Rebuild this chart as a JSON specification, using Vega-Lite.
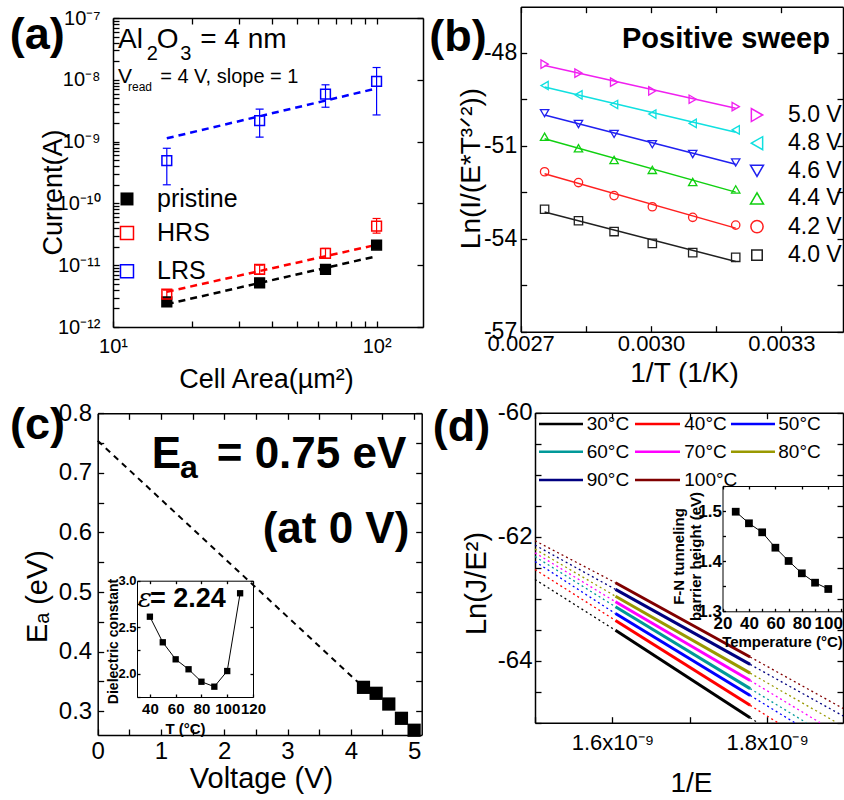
{
"$schema": "https://vega.github.io/schema/vega-lite/v6.json",
"width": 844, "height": 800, "padding": 0, "autosize": {"type": "none"},
"background": "white",
"config": {
  "font": "Liberation Sans",
  "view": {"stroke": null},
  "axis": {"grid": false, "tickSize": -6, "labelFlush": false, "labelOverlap": false, "labelBound": false,
    "domainColor": "#000", "tickColor": "#000", "labelColor": "#000", "titleColor": "#000",
    "domainWidth": 1.5, "tickWidth": 1.3, "labelFont": "Liberation Sans", "titleFont": "Liberation Sans",
    "titleFontWeight": "normal", "titleBaseline": "alphabetic", "titleAlign": "center", "titlePadding": 0},
  "text": {"font": "Liberation Sans", "color": "#000"}
},
"datasets": {
  "a_pts": [
    {"area": 16, "I": 2.54e-12, "s": "pristine"},
    {"area": 36, "I": 5.2e-12, "s": "pristine"},
    {"area": 64, "I": 8.55e-12, "s": "pristine"},
    {"area": 100, "I": 2.12e-11, "s": "pristine"},
    {"area": 16, "I": 3.4e-12, "lo": 2.9e-12, "hi": 3.95e-12, "s": "HRS"},
    {"area": 36, "I": 8.55e-12, "lo": 7.2e-12, "hi": 1.0e-11, "s": "HRS"},
    {"area": 64, "I": 1.55e-11, "lo": 1.29e-11, "hi": 1.87e-11, "s": "HRS"},
    {"area": 100, "I": 4.3e-11, "lo": 3.3e-11, "hi": 5.7e-11, "s": "HRS"},
    {"area": 16, "I": 4.9e-10, "lo": 2.0e-10, "hi": 7.8e-10, "s": "LRS"},
    {"area": 36, "I": 2.19e-9, "lo": 1.18e-9, "hi": 3.35e-9, "s": "LRS"},
    {"area": 64, "I": 5.86e-9, "lo": 3.6e-9, "hi": 8.3e-9, "s": "LRS"},
    {"area": 100, "I": 9.4e-9, "lo": 2.7e-9, "hi": 1.58e-8, "s": "LRS"}
  ],
  "a_fit": [
    {"area": 16, "I": 2.34e-12, "s": "pristine"}, {"area": 98, "I": 1.37e-11, "s": "pristine"},
    {"area": 16, "I": 3.7e-12, "s": "HRS"}, {"area": 98, "I": 2.1e-11, "s": "HRS"},
    {"area": 16, "I": 1.13e-9, "s": "LRS"}, {"area": 98, "I": 7.1e-9, "s": "LRS"}
  ],
  "b_pts": [
    {"V": "5.0 V", "x": 0.002755, "y": -48.37}, {"V": "5.0 V", "x": 0.002833, "y": -48.66}, {"V": "5.0 V", "x": 0.002915, "y": -48.95},
    {"V": "5.0 V", "x": 0.003003, "y": -49.23}, {"V": "5.0 V", "x": 0.003096, "y": -49.50}, {"V": "5.0 V", "x": 0.003195, "y": -49.74},
    {"V": "4.8 V", "x": 0.002755, "y": -49.06}, {"V": "4.8 V", "x": 0.002833, "y": -49.36}, {"V": "4.8 V", "x": 0.002915, "y": -49.67},
    {"V": "4.8 V", "x": 0.003003, "y": -49.98}, {"V": "4.8 V", "x": 0.003096, "y": -50.28}, {"V": "4.8 V", "x": 0.003195, "y": -50.49},
    {"V": "4.6 V", "x": 0.002755, "y": -49.95}, {"V": "4.6 V", "x": 0.002833, "y": -50.30}, {"V": "4.6 V", "x": 0.002915, "y": -50.62},
    {"V": "4.6 V", "x": 0.003003, "y": -50.95}, {"V": "4.6 V", "x": 0.003096, "y": -51.27}, {"V": "4.6 V", "x": 0.003195, "y": -51.54},
    {"V": "4.4 V", "x": 0.002755, "y": -50.71}, {"V": "4.4 V", "x": 0.002833, "y": -51.08}, {"V": "4.4 V", "x": 0.002915, "y": -51.46},
    {"V": "4.4 V", "x": 0.003003, "y": -51.78}, {"V": "4.4 V", "x": 0.003096, "y": -52.17}, {"V": "4.4 V", "x": 0.003195, "y": -52.41},
    {"V": "4.2 V", "x": 0.002755, "y": -51.84}, {"V": "4.2 V", "x": 0.002833, "y": -52.19}, {"V": "4.2 V", "x": 0.002915, "y": -52.61},
    {"V": "4.2 V", "x": 0.003003, "y": -52.97}, {"V": "4.2 V", "x": 0.003096, "y": -53.31}, {"V": "4.2 V", "x": 0.003195, "y": -53.56},
    {"V": "4.0 V", "x": 0.002755, "y": -53.05}, {"V": "4.0 V", "x": 0.002833, "y": -53.42}, {"V": "4.0 V", "x": 0.002915, "y": -53.77},
    {"V": "4.0 V", "x": 0.003003, "y": -54.15}, {"V": "4.0 V", "x": 0.003096, "y": -54.45}, {"V": "4.0 V", "x": 0.003195, "y": -54.60}
  ],
  "c_pts": [
    {"V": 4.2, "Ea": 0.340}, {"V": 4.4, "Ea": 0.330}, {"V": 4.6, "Ea": 0.312}, {"V": 4.8, "Ea": 0.288}, {"V": 5.0, "Ea": 0.268}
  ],
  "c_fit": [{"V": 0, "Ea": 0.754}, {"V": 4.2, "Ea": 0.340}],
  "c_ins": [
    {"T": 40, "eps": 2.613}, {"T": 50, "eps": 2.338}, {"T": 60, "eps": 2.155}, {"T": 70, "eps": 2.048},
    {"T": 80, "eps": 1.914}, {"T": 90, "eps": 1.861}, {"T": 100, "eps": 2.029}, {"T": 110, "eps": 2.865}
  ],
  "d_cur": [
    {"T": "30°C", "x": 1.604e-9, "y": -63.51}, {"T": "30°C", "x": 1.778e-9, "y": -64.92},
    {"T": "40°C", "x": 1.604e-9, "y": -63.35}, {"T": "40°C", "x": 1.778e-9, "y": -64.72},
    {"T": "50°C", "x": 1.604e-9, "y": -63.24}, {"T": "50°C", "x": 1.778e-9, "y": -64.56},
    {"T": "60°C", "x": 1.604e-9, "y": -63.13}, {"T": "60°C", "x": 1.778e-9, "y": -64.45},
    {"T": "70°C", "x": 1.604e-9, "y": -63.05}, {"T": "70°C", "x": 1.778e-9, "y": -64.32},
    {"T": "80°C", "x": 1.604e-9, "y": -62.96}, {"T": "80°C", "x": 1.778e-9, "y": -64.20},
    {"T": "90°C", "x": 1.604e-9, "y": -62.85}, {"T": "90°C", "x": 1.778e-9, "y": -64.06},
    {"T": "100°C", "x": 1.604e-9, "y": -62.742}, {"T": "100°C", "x": 1.778e-9, "y": -63.94}
  ],
  "d_ext": [
    {"T": "30°C", "seg": "L", "x": 1.5e-9, "y": -62.69}, {"T": "30°C", "seg": "L", "x": 1.604e-9, "y": -63.51},
    {"T": "30°C", "seg": "R", "x": 1.778e-9, "y": -64.92}, {"T": "30°C", "seg": "R", "x": 1.788e-9, "y": -65.0},
    {"T": "40°C", "seg": "L", "x": 1.5e-9, "y": -62.53}, {"T": "40°C", "seg": "L", "x": 1.604e-9, "y": -63.35},
    {"T": "40°C", "seg": "R", "x": 1.778e-9, "y": -64.72}, {"T": "40°C", "seg": "R", "x": 1.8138e-9, "y": -65.0},
    {"T": "50°C", "seg": "L", "x": 1.5e-9, "y": -62.40}, {"T": "50°C", "seg": "L", "x": 1.604e-9, "y": -63.24},
    {"T": "50°C", "seg": "R", "x": 1.778e-9, "y": -64.56}, {"T": "50°C", "seg": "R", "x": 1.8356e-9, "y": -65.0},
    {"T": "60°C", "seg": "L", "x": 1.5e-9, "y": -62.32}, {"T": "60°C", "seg": "L", "x": 1.604e-9, "y": -63.13},
    {"T": "60°C", "seg": "R", "x": 1.778e-9, "y": -64.45}, {"T": "60°C", "seg": "R", "x": 1.8505e-9, "y": -65.0},
    {"T": "70°C", "seg": "L", "x": 1.5e-9, "y": -62.26}, {"T": "70°C", "seg": "L", "x": 1.604e-9, "y": -63.05},
    {"T": "70°C", "seg": "R", "x": 1.778e-9, "y": -64.32}, {"T": "70°C", "seg": "R", "x": 1.8683e-9, "y": -65.0},
    {"T": "80°C", "seg": "L", "x": 1.5e-9, "y": -62.20}, {"T": "80°C", "seg": "L", "x": 1.604e-9, "y": -62.96},
    {"T": "80°C", "seg": "R", "x": 1.778e-9, "y": -64.20}, {"T": "80°C", "seg": "R", "x": 1.8902e-9, "y": -65.0},
    {"T": "90°C", "seg": "L", "x": 1.5e-9, "y": -62.135}, {"T": "90°C", "seg": "L", "x": 1.604e-9, "y": -62.85},
    {"T": "90°C", "seg": "R", "x": 1.778e-9, "y": -64.06}, {"T": "90°C", "seg": "R", "x": 1.898e-9, "y": -64.89},
    {"T": "100°C", "seg": "L", "x": 1.5e-9, "y": -62.065}, {"T": "100°C", "seg": "L", "x": 1.604e-9, "y": -62.742},
    {"T": "100°C", "seg": "R", "x": 1.778e-9, "y": -63.94}, {"T": "100°C", "seg": "R", "x": 1.898e-9, "y": -64.77}
  ],
  "d_ins": [
    {"T": 30, "phi": 1.4987}, {"T": 40, "phi": 1.4756}, {"T": 50, "phi": 1.4576}, {"T": 60, "phi": 1.4269},
    {"T": 70, "phi": 1.4004}, {"T": 80, "phi": 1.3758}, {"T": 90, "phi": 1.3571}, {"T": 100, "phi": 1.3445}
  ]
},
"layer": [
  {
    "layer": [
      {
        "data": {"name": "a_fit"},
        "mark": {"type": "line", "strokeDash": [7, 5], "strokeWidth": 2.5},
        "encoding": {
          "x": {"field": "area", "type": "quantitative", "scale": {"type": "log", "domain": [10, 150], "range": [113, 423], "nice": false},
            "axis": {"orient": "top", "offset": -18, "labels": false, "title": null, "values": [10, 20, 30, 40, 50, 60, 70, 80, 90, 100]}},
          "y": {"field": "I", "type": "quantitative", "scale": {"type": "log", "domain": [1e-12, 1e-7], "range": [327, 18], "nice": false},
            "axis": {"orient": "right", "offset": -421, "labels": false, "title": null, "values": [1e-12, 1e-11, 1e-10, 1e-9, 1e-8, 1e-7]}},
          "color": {"field": "s", "type": "nominal", "scale": {"domain": ["pristine", "HRS", "LRS"], "range": ["#000000", "#FF0000", "#0000FF"]}, "legend": null}
        }
      },
      {
        "data": {"name": "a_pts"},
        "transform": [{"filter": "isValid(datum.lo)"}],
        "mark": {"type": "rule", "strokeWidth": 1.2},
        "encoding": {
          "x": {"field": "area", "type": "quantitative", "axis": null},
          "y": {"field": "lo", "type": "quantitative", "axis": null},
          "y2": {"field": "hi"},
          "color": {"field": "s", "type": "nominal", "legend": null}
        }
      },
      {
        "data": {"name": "a_pts"},
        "transform": [{"filter": "isValid(datum.lo)"}],
        "mark": {"type": "tick", "orient": "horizontal", "size": 8, "thickness": 1.2, "opacity": 1},
        "encoding": {
          "x": {"field": "area", "type": "quantitative", "axis": null},
          "y": {"field": "lo", "type": "quantitative", "axis": null},
          "color": {"field": "s", "type": "nominal", "legend": null}
        }
      },
      {
        "data": {"name": "a_pts"},
        "transform": [{"filter": "isValid(datum.hi)"}],
        "mark": {"type": "tick", "orient": "horizontal", "size": 8, "thickness": 1.2, "opacity": 1},
        "encoding": {
          "x": {"field": "area", "type": "quantitative", "axis": null},
          "y": {"field": "hi", "type": "quantitative", "axis": null},
          "color": {"field": "s", "type": "nominal", "legend": null}
        }
      },
      {
        "data": {"name": "a_pts"},
        "mark": {"type": "point", "shape": "square", "size": 95, "strokeWidth": 1.5, "opacity": 1},
        "encoding": {
          "x": {"field": "area", "type": "quantitative",
            "axis": {"orient": "bottom", "offset": -473, "values": [10, 20, 30, 40, 50, 60, 70, 80, 90, 100],
              "labelExpr": "datum.value === 10 ? '10¹' : datum.value === 100 ? '10²' : ''",
              "labelFontSize": 20, "labelPadding": 15, "title": "Cell Area(µm²)", "titleFontSize": 27, "titleX": 266, "titleY": 60}},
          "y": {"field": "I", "type": "quantitative",
            "axis": {"orient": "left", "offset": -113,
              "values": [1e-12, 2e-12, 3e-12, 4e-12, 5e-12, 6e-12, 7e-12, 8e-12, 9e-12, 1e-11, 2e-11, 3e-11, 4e-11, 5e-11, 6e-11, 7e-11, 8e-11, 9e-11, 1e-10, 2e-10, 3e-10, 4e-10, 5e-10, 6e-10, 7e-10, 8e-10, 9e-10, 1e-9, 2e-9, 3e-9, 4e-9, 5e-9, 6e-9, 7e-9, 8e-9, 9e-9, 1e-8, 2e-8, 3e-8, 4e-8, 5e-8, 6e-8, 7e-8, 8e-8, 9e-8, 1e-7],
              "labelExpr": "datum.value === 1e-12 ? '10⁻¹²' : datum.value === 1e-11 ? '10⁻¹¹' : datum.value === 1e-10 ? '10⁻¹⁰' : datum.value === 1e-9 ? '10⁻⁹' : datum.value === 1e-8 ? '10⁻⁸' : datum.value === 1e-7 ? '10⁻⁷' : ''",
              "labelFontSize": 20, "labelPadding": 19, "title": "Current(A)", "titleFontSize": 27, "titleX": -52, "titleY": 192}},
          "color": {"field": "s", "type": "nominal", "legend": null},
          "fill": {"field": "s", "type": "nominal", "scale": {"domain": ["pristine", "HRS", "LRS"], "range": ["#000000", "transparent", "transparent"]}, "legend": null}
        }
      },
      {"data": {"values": [{}]}, "mark": {"type": "point", "shape": "square", "size": 169, "filled": true, "color": "#000", "opacity": 1},
        "encoding": {"x": {"datum": 11.3, "type": "quantitative", "axis": null}, "y": {"datum": 1.18e-10, "type": "quantitative", "axis": null}}},
      {"data": {"values": [{}]}, "mark": {"type": "point", "shape": "square", "size": 169, "filled": false, "strokeWidth": 1.5, "color": "#FF0000", "opacity": 1},
        "encoding": {"x": {"datum": 11.3, "type": "quantitative", "axis": null}, "y": {"datum": 3.31e-11, "type": "quantitative", "axis": null}}},
      {"data": {"values": [{}]}, "mark": {"type": "point", "shape": "square", "size": 169, "filled": false, "strokeWidth": 1.5, "color": "#0000FF", "opacity": 1},
        "encoding": {"x": {"datum": 11.3, "type": "quantitative", "axis": null}, "y": {"datum": 8.0e-12, "type": "quantitative", "axis": null}}},
      {"data": {"values": [{}]}, "mark": {"type": "text", "text": "pristine", "fontSize": 25, "align": "left", "baseline": "middle"},
        "encoding": {"x": {"datum": 14.69, "type": "quantitative", "axis": null}, "y": {"datum": 1.18e-10, "type": "quantitative", "axis": null}}},
      {"data": {"values": [{}]}, "mark": {"type": "text", "text": "HRS", "fontSize": 25, "align": "left", "baseline": "middle"},
        "encoding": {"x": {"datum": 14.69, "type": "quantitative", "axis": null}, "y": {"datum": 3.31e-11, "type": "quantitative", "axis": null}}},
      {"data": {"values": [{}]}, "mark": {"type": "text", "text": "LRS", "fontSize": 25, "align": "left", "baseline": "middle"},
        "encoding": {"x": {"datum": 14.69, "type": "quantitative", "axis": null}, "y": {"datum": 8.0e-12, "type": "quantitative", "axis": null}}},
      {"data": {"values": [{}]}, "mark": {"type": "text", "text": "(a)", "fontSize": 45, "fontWeight": "bold", "align": "center", "baseline": "middle"},
        "encoding": {"x": {"datum": 5.16, "type": "quantitative", "axis": null}, "y": {"datum": 5.37e-8, "type": "quantitative", "axis": null}}},
      {"data": {"values": [{}]}, "mark": {"type": "text", "text": "Al", "fontSize": 28, "align": "left", "baseline": "alphabetic"},
        "encoding": {"x": {"datum": 10.447, "type": "quantitative", "axis": null}, "y": {"datum": 3.27e-8, "type": "quantitative", "axis": null}}},
      {"data": {"values": [{}]}, "mark": {"type": "text", "text": "2", "fontSize": 20, "align": "left", "baseline": "alphabetic"},
        "encoding": {"x": {"datum": 13.43, "type": "quantitative", "axis": null}, "y": {"datum": 2.11e-8, "type": "quantitative", "axis": null}}},
      {"data": {"values": [{}]}, "mark": {"type": "text", "text": "O", "fontSize": 28, "align": "left", "baseline": "alphabetic"},
        "encoding": {"x": {"datum": 14.66, "type": "quantitative", "axis": null}, "y": {"datum": 3.27e-8, "type": "quantitative", "axis": null}}},
      {"data": {"values": [{}]}, "mark": {"type": "text", "text": "3", "fontSize": 20, "align": "left", "baseline": "alphabetic"},
        "encoding": {"x": {"datum": 17.98, "type": "quantitative", "axis": null}, "y": {"datum": 2.11e-8, "type": "quantitative", "axis": null}}},
      {"data": {"values": [{}]}, "mark": {"type": "text", "text": "= 4 nm", "fontSize": 28, "align": "left", "baseline": "alphabetic"},
        "encoding": {"x": {"datum": 21.42, "type": "quantitative", "axis": null}, "y": {"datum": 3.27e-8, "type": "quantitative", "axis": null}}},
      {"data": {"values": [{}]}, "mark": {"type": "text", "text": "V", "fontSize": 21, "align": "left", "baseline": "alphabetic"},
        "encoding": {"x": {"datum": 10.447, "type": "quantitative", "axis": null}, "y": {"datum": 8.84e-9, "type": "quantitative", "axis": null}}},
      {"data": {"values": [{}]}, "mark": {"type": "text", "text": "read", "fontSize": 12, "align": "left", "baseline": "alphabetic"},
        "encoding": {"x": {"datum": 11.4, "type": "quantitative", "axis": null}, "y": {"datum": 6.71e-9, "type": "quantitative", "axis": null}}},
      {"data": {"values": [{}]}, "mark": {"type": "text", "text": "= 4 V, slope = 1", "fontSize": 20, "align": "left", "baseline": "alphabetic"},
        "encoding": {"x": {"datum": 15.1, "type": "quantitative", "axis": null}, "y": {"datum": 8.84e-9, "type": "quantitative", "axis": null}}}
    ],
    "resolve": {"axis": {"x": "independent", "y": "independent"}}
  },
  {
    "layer": [
      {
        "data": {"name": "b_pts"},
        "transform": [{"regression": "y", "on": "x", "groupby": ["V"]}],
        "mark": {"type": "line", "strokeWidth": 1.5},
        "encoding": {
          "x": {"field": "x", "type": "quantitative", "scale": {"domain": [0.0027, 0.003442], "range": [520.7, 843], "nice": false, "zero": false},
            "axis": {"orient": "top", "offset": -6.7, "labels": false, "title": null, "values": [0.0027, 0.00285, 0.003, 0.00315, 0.0033]}},
          "y": {"field": "y", "type": "quantitative", "scale": {"domain": [-57, -46.516], "range": [331.7, 6.7], "nice": false, "zero": false},
            "axis": {"orient": "right", "offset": -1, "labels": false, "title": null, "values": [-57, -55.5, -54, -52.5, -51, -49.5, -48]}},
          "color": {"field": "V", "type": "nominal", "scale": {"domain": ["5.0 V", "4.8 V", "4.6 V", "4.4 V", "4.2 V", "4.0 V"], "range": ["#F020F0", "#10E0E0", "#2020F0", "#10D010", "#FF2020", "#202020"]}, "legend": null}
        }
      },
      {
        "data": {"name": "b_pts"},
        "mark": {"type": "point", "filled": false, "size": 70, "strokeWidth": 1.3, "opacity": 1},
        "encoding": {
          "x": {"field": "x", "type": "quantitative",
            "axis": {"orient": "bottom", "offset": -468.3, "values": [0.0027, 0.00285, 0.003, 0.00315, 0.0033],
              "labelExpr": "round(datum.value*100000) % 30 === 0 ? format(datum.value, '.4f') : ''",
              "labelFontSize": 22, "labelPadding": 8, "title": "1/T (1/K)", "titleFontSize": 28, "titleX": 684, "titleY": 50}},
          "y": {"field": "y", "type": "quantitative",
            "axis": {"orient": "left", "offset": -520.7, "values": [-57, -55.5, -54, -52.5, -51, -49.5, -48],
              "labelExpr": "datum.value % 3 === 0 ? '' + datum.value : ''",
              "labelFontSize": 23, "labelPadding": 10, "title": "Ln(I/(E*T³ᐟ²))", "titleFontSize": 28, "titleX": -41, "titleY": 168}},
          "color": {"field": "V", "type": "nominal", "legend": null},
          "shape": {"field": "V", "type": "nominal", "scale": {"domain": ["5.0 V", "4.8 V", "4.6 V", "4.4 V", "4.2 V", "4.0 V"], "range": ["triangle-right", "triangle-left", "triangle-down", "triangle-up", "circle", "square"]}, "legend": null}
        }
      },
      {"data": {"values": [{}]}, "mark": {"type": "point", "shape": "triangle-right", "size": 170, "filled": false, "strokeWidth": 1.5, "color": "#F020F0", "opacity": 1},
        "encoding": {"x": {"datum": 0.003244, "type": "quantitative", "axis": null}, "y": {"datum": -50.01, "type": "quantitative", "axis": null}}},
      {"data": {"values": [{}]}, "mark": {"type": "point", "shape": "triangle-left", "size": 170, "filled": false, "strokeWidth": 1.5, "color": "#10E0E0", "opacity": 1},
        "encoding": {"x": {"datum": 0.003244, "type": "quantitative", "axis": null}, "y": {"datum": -50.92, "type": "quantitative", "axis": null}}},
      {"data": {"values": [{}]}, "mark": {"type": "point", "shape": "triangle-down", "size": 170, "filled": false, "strokeWidth": 1.5, "color": "#2020F0", "opacity": 1},
        "encoding": {"x": {"datum": 0.003244, "type": "quantitative", "axis": null}, "y": {"datum": -51.81, "type": "quantitative", "axis": null}}},
      {"data": {"values": [{}]}, "mark": {"type": "point", "shape": "triangle-up", "size": 170, "filled": false, "strokeWidth": 1.5, "color": "#10D010", "opacity": 1},
        "encoding": {"x": {"datum": 0.003244, "type": "quantitative", "axis": null}, "y": {"datum": -52.70, "type": "quantitative", "axis": null}}},
      {"data": {"values": [{}]}, "mark": {"type": "point", "shape": "circle", "size": 150, "filled": false, "strokeWidth": 1.5, "color": "#FF2020", "opacity": 1},
        "encoding": {"x": {"datum": 0.003244, "type": "quantitative", "axis": null}, "y": {"datum": -53.61, "type": "quantitative", "axis": null}}},
      {"data": {"values": [{}]}, "mark": {"type": "point", "shape": "square", "size": 110, "filled": false, "strokeWidth": 1.5, "color": "#202020", "opacity": 1},
        "encoding": {"x": {"datum": 0.003244, "type": "quantitative", "axis": null}, "y": {"datum": -54.53, "type": "quantitative", "axis": null}}},
      {"data": {"values": [{}]}, "mark": {"type": "text", "text": "5.0 V", "fontSize": 23, "align": "left", "baseline": "middle"},
        "encoding": {"x": {"datum": 0.0033154, "type": "quantitative", "axis": null}, "y": {"datum": -50.01, "type": "quantitative", "axis": null}}},
      {"data": {"values": [{}]}, "mark": {"type": "text", "text": "4.8 V", "fontSize": 23, "align": "left", "baseline": "middle"},
        "encoding": {"x": {"datum": 0.0033154, "type": "quantitative", "axis": null}, "y": {"datum": -50.92, "type": "quantitative", "axis": null}}},
      {"data": {"values": [{}]}, "mark": {"type": "text", "text": "4.6 V", "fontSize": 23, "align": "left", "baseline": "middle"},
        "encoding": {"x": {"datum": 0.0033154, "type": "quantitative", "axis": null}, "y": {"datum": -51.81, "type": "quantitative", "axis": null}}},
      {"data": {"values": [{}]}, "mark": {"type": "text", "text": "4.4 V", "fontSize": 23, "align": "left", "baseline": "middle"},
        "encoding": {"x": {"datum": 0.0033154, "type": "quantitative", "axis": null}, "y": {"datum": -52.70, "type": "quantitative", "axis": null}}},
      {"data": {"values": [{}]}, "mark": {"type": "text", "text": "4.2 V", "fontSize": 23, "align": "left", "baseline": "middle"},
        "encoding": {"x": {"datum": 0.0033154, "type": "quantitative", "axis": null}, "y": {"datum": -53.61, "type": "quantitative", "axis": null}}},
      {"data": {"values": [{}]}, "mark": {"type": "text", "text": "4.0 V", "fontSize": 23, "align": "left", "baseline": "middle"},
        "encoding": {"x": {"datum": 0.0033154, "type": "quantitative", "axis": null}, "y": {"datum": -54.53, "type": "quantitative", "axis": null}}},
      {"data": {"values": [{}]}, "mark": {"type": "text", "text": "(b)", "fontSize": 45, "fontWeight": "bold", "align": "center", "baseline": "middle"},
        "encoding": {"x": {"datum": 0.0025556, "type": "quantitative", "axis": null}, "y": {"datum": -47.49, "type": "quantitative", "axis": null}}},
      {"data": {"values": [{}]}, "mark": {"type": "text", "text": "Positive sweep", "fontSize": 29, "fontWeight": "bold", "align": "left", "baseline": "alphabetic"},
        "encoding": {"x": {"datum": 0.0029332, "type": "quantitative", "axis": null}, "y": {"datum": -47.86, "type": "quantitative", "axis": null}}}
    ],
    "resolve": {"axis": {"x": "independent", "y": "independent"}}
  },
  {
    "layer": [
      {
        "data": {"name": "c_fit"},
        "mark": {"type": "line", "strokeDash": [6, 5], "strokeWidth": 2, "color": "#000"},
        "encoding": {
          "x": {"field": "V", "type": "quantitative", "scale": {"domain": [0, 5.12], "range": [97.7, 421.7], "nice": false, "zero": false},
            "axis": {"orient": "top", "offset": -413.3, "labels": false, "title": null, "values": [0, 0.5, 1, 1.5, 2, 2.5, 3, 3.5, 4, 4.5, 5]}},
          "y": {"field": "Ea", "type": "quantitative", "scale": {"domain": [0.26, 0.8], "range": [735, 413.3], "nice": false, "zero": false},
            "axis": {"orient": "right", "offset": -422.3, "labels": false, "title": null, "values": [0.3, 0.35, 0.4, 0.45, 0.5, 0.55, 0.6, 0.65, 0.7, 0.75, 0.8]}}
        }
      },
      {
        "data": {"name": "c_pts"},
        "mark": {"type": "point", "shape": "square", "filled": true, "size": 175, "color": "#000", "opacity": 1},
        "encoding": {
          "x": {"field": "V", "type": "quantitative",
            "axis": {"orient": "bottom", "offset": -65, "values": [0, 0.5, 1, 1.5, 2, 2.5, 3, 3.5, 4, 4.5, 5],
              "labelExpr": "datum.value % 1 === 0 ? '' + datum.value : ''",
              "labelFontSize": 24, "labelPadding": 10, "title": "Voltage (V)", "titleFontSize": 29, "titleX": 261, "titleY": 52}},
          "y": {"field": "Ea", "type": "quantitative",
            "axis": {"orient": "left", "offset": -97.7, "values": [0.3, 0.35, 0.4, 0.45, 0.5, 0.55, 0.6, 0.65, 0.7, 0.75, 0.8],
              "labelExpr": "round(datum.value*100) % 10 === 0 ? format(datum.value, '.1f') : ''",
              "labelFontSize": 24, "labelPadding": 12, "title": "Eₐ (eV)", "titleFontSize": 29, "titleX": -51, "titleY": 596}}
        }
      },
      {"data": {"values": [{}]}, "mark": {"type": "text", "text": "(c)", "fontSize": 45, "fontWeight": "bold", "align": "center", "baseline": "middle"},
        "encoding": {"x": {"datum": -0.951, "type": "quantitative", "axis": null}, "y": {"datum": 0.7804, "type": "quantitative", "axis": null}}},
      {"data": {"values": [{}]}, "mark": {"type": "text", "text": "E", "fontSize": 44, "fontWeight": "bold", "align": "left", "baseline": "alphabetic"},
        "encoding": {"x": {"datum": 0.853, "type": "quantitative", "axis": null}, "y": {"datum": 0.7077, "type": "quantitative", "axis": null}}},
      {"data": {"values": [{}]}, "mark": {"type": "text", "text": "a", "fontSize": 32, "fontWeight": "bold", "align": "left", "baseline": "alphabetic"},
        "encoding": {"x": {"datum": 1.30, "type": "quantitative", "axis": null}, "y": {"datum": 0.6909, "type": "quantitative", "axis": null}}},
      {"data": {"values": [{}]}, "mark": {"type": "text", "text": "= 0.75 eV", "fontSize": 44, "fontWeight": "bold", "align": "left", "baseline": "alphabetic"},
        "encoding": {"x": {"datum": 1.881, "type": "quantitative", "axis": null}, "y": {"datum": 0.7077, "type": "quantitative", "axis": null}}},
      {"data": {"values": [{}]}, "mark": {"type": "text", "text": "(at 0 V)", "fontSize": 44, "fontWeight": "bold", "align": "right", "baseline": "alphabetic"},
        "encoding": {"x": {"datum": 4.925, "type": "quantitative", "axis": null}, "y": {"datum": 0.5818, "type": "quantitative", "axis": null}}}
    ],
    "resolve": {"axis": {"x": "independent", "y": "independent"}}
  },
  {
    "layer": [
      {
        "data": {"name": "c_ins"},
        "mark": {"type": "line", "strokeWidth": 1, "color": "#000"},
        "encoding": {
          "x": {"field": "T", "type": "quantitative", "scale": {"domain": [30, 120], "range": [137, 253], "nice": false, "zero": false},
            "axis": {"orient": "top", "offset": -580.7, "labels": false, "title": null, "tickSize": -3, "domainWidth": 1, "zindex": 1, "values": [40, 60, 80, 100, 120]}},
          "y": {"field": "eps", "type": "quantitative", "scale": {"domain": [1.75, 3.0], "range": [697, 580.7], "nice": false, "zero": false},
            "axis": {"orient": "right", "offset": -591, "labels": false, "title": null, "tickSize": -3, "domainWidth": 1, "zindex": 1, "values": [2.0, 2.5, 3.0]}}
        }
      },
      {
        "data": {"name": "c_ins"},
        "mark": {"type": "point", "shape": "square", "filled": true, "size": 40, "color": "#000", "opacity": 1},
        "encoding": {
          "x": {"field": "T", "type": "quantitative",
            "axis": {"orient": "bottom", "offset": -103, "values": [40, 60, 80, 100, 120], "tickSize": -3, "domainWidth": 1, "zindex": 1,
              "labelFontSize": 15, "labelFontWeight": "bold", "labelPadding": 7,
              "title": "T (°C)", "titleFontSize": 15, "titleFontWeight": "bold", "titleX": 185, "titleY": 36}},
          "y": {"field": "eps", "type": "quantitative",
            "axis": {"orient": "left", "offset": -137, "values": [1.75, 2.0, 2.25, 2.5, 2.75, 3.0], "tickSize": -3, "domainWidth": 1, "zindex": 1,
              "labelExpr": "round(datum.value*4) % 2 === 0 ? format(datum.value, '.1f') : ''",
              "labelFontSize": 13, "labelFontWeight": "bold", "labelPadding": 4,
              "title": "Dielectric constant", "titleFontSize": 14, "titleFontWeight": "bold", "titleX": -20, "titleY": 641}}
        }
      },
      {"data": {"values": [{}]}, "mark": {"type": "text", "text": "ε", "font": "DejaVu Serif", "fontStyle": "italic", "fontSize": 26, "align": "left", "baseline": "alphabetic"},
        "encoding": {"x": {"datum": 30.8, "type": "quantitative", "axis": null}, "y": {"datum": 2.72, "type": "quantitative", "axis": null}}},
      {"data": {"values": [{}]}, "mark": {"type": "text", "text": "= 2.24", "fontSize": 27, "fontWeight": "bold", "align": "left", "baseline": "alphabetic"},
        "encoding": {"x": {"datum": 40.1, "type": "quantitative", "axis": null}, "y": {"datum": 2.72, "type": "quantitative", "axis": null}}}
    ],
    "resolve": {"axis": {"x": "independent", "y": "independent"}}
  },
  {
    "layer": [
      {
        "data": {"name": "d_ext"},
        "mark": {"type": "line", "strokeDash": [2, 3], "strokeWidth": 1.3},
        "encoding": {
          "x": {"field": "x", "type": "quantitative", "scale": {"domain": [1.5e-9, 1.898e-9], "range": [535, 843], "nice": false, "zero": false},
            "axis": {"orient": "top", "offset": -412.7, "labels": false, "title": null, "values": [1.5e-9, 1.6e-9, 1.7e-9, 1.8e-9]}},
          "y": {"field": "y", "type": "quantitative", "scale": {"domain": [-65, -60], "range": [722.7, 412.7], "nice": false, "zero": false},
            "axis": {"orient": "right", "offset": -1, "labels": false, "title": null, "values": [-65, -64.5, -64, -63.5, -63, -62.5, -62, -61.5, -61, -60.5, -60]}},
          "color": {"field": "T", "type": "nominal", "scale": {"domain": ["30°C", "40°C", "50°C", "60°C", "70°C", "80°C", "90°C", "100°C"], "range": ["#000000", "#FF0000", "#0000FF", "#009999", "#FF00FF", "#999900", "#000080", "#800000"]}, "legend": null},
          "detail": {"field": "seg", "type": "nominal"}
        }
      },
      {
        "data": {"name": "d_cur"},
        "mark": {"type": "line", "strokeWidth": 3},
        "encoding": {
          "x": {"field": "x", "type": "quantitative",
            "axis": {"orient": "bottom", "offset": -77.3, "values": [1.5e-9, 1.6e-9, 1.7e-9, 1.8e-9],
              "labelExpr": "(round(datum.value*1e10) === 16 || round(datum.value*1e10) === 18) ? format(datum.value*1e9, '.1f') + 'x10⁻⁹' : ''",
              "labelFontSize": 22, "labelPadding": 16, "title": "1/E", "titleFontSize": 28, "titleX": 691, "titleY": 69}},
          "y": {"field": "y", "type": "quantitative",
            "axis": {"orient": "left", "offset": -535, "values": [-65, -64.5, -64, -63.5, -63, -62.5, -62, -61.5, -61, -60.5, -60],
              "labelExpr": "datum.value % 2 === 0 ? '' + datum.value : ''",
              "labelFontSize": 24, "labelPadding": 9, "title": "Ln(J/E²)", "titleFontSize": 29, "titleX": -50, "titleY": 583}},
          "color": {"field": "T", "type": "nominal", "legend": null}
        }
      },
      {"data": {"values": [{}]}, "mark": {"type": "rule", "strokeWidth": 2.5, "color": "#000000"},
        "encoding": {"x": {"datum": 1.50517e-9, "type": "quantitative", "axis": null}, "x2": {"datum": 1.56202e-9}, "y": {"datum": -60.182, "type": "quantitative", "axis": null}}},
      {"data": {"values": [{}]}, "mark": {"type": "rule", "strokeWidth": 2.5, "color": "#FF0000"},
        "encoding": {"x": {"datum": 1.62922e-9, "type": "quantitative", "axis": null}, "x2": {"datum": 1.68737e-9}, "y": {"datum": -60.182, "type": "quantitative", "axis": null}}},
      {"data": {"values": [{}]}, "mark": {"type": "rule", "strokeWidth": 2.5, "color": "#0000FF"},
        "encoding": {"x": {"datum": 1.75326e-9, "type": "quantitative", "axis": null}, "x2": {"datum": 1.81011e-9}, "y": {"datum": -60.182, "type": "quantitative", "axis": null}}},
      {"data": {"values": [{}]}, "mark": {"type": "rule", "strokeWidth": 2.5, "color": "#009999"},
        "encoding": {"x": {"datum": 1.50517e-9, "type": "quantitative", "axis": null}, "x2": {"datum": 1.56202e-9}, "y": {"datum": -60.629, "type": "quantitative", "axis": null}}},
      {"data": {"values": [{}]}, "mark": {"type": "rule", "strokeWidth": 2.5, "color": "#FF00FF"},
        "encoding": {"x": {"datum": 1.62922e-9, "type": "quantitative", "axis": null}, "x2": {"datum": 1.68737e-9}, "y": {"datum": -60.629, "type": "quantitative", "axis": null}}},
      {"data": {"values": [{}]}, "mark": {"type": "rule", "strokeWidth": 2.5, "color": "#999900"},
        "encoding": {"x": {"datum": 1.75326e-9, "type": "quantitative", "axis": null}, "x2": {"datum": 1.81011e-9}, "y": {"datum": -60.629, "type": "quantitative", "axis": null}}},
      {"data": {"values": [{}]}, "mark": {"type": "rule", "strokeWidth": 2.5, "color": "#000080"},
        "encoding": {"x": {"datum": 1.50517e-9, "type": "quantitative", "axis": null}, "x2": {"datum": 1.56202e-9}, "y": {"datum": -61.085, "type": "quantitative", "axis": null}}},
      {"data": {"values": [{}]}, "mark": {"type": "rule", "strokeWidth": 2.5, "color": "#800000"},
        "encoding": {"x": {"datum": 1.62922e-9, "type": "quantitative", "axis": null}, "x2": {"datum": 1.68737e-9}, "y": {"datum": -61.085, "type": "quantitative", "axis": null}}},
      {"data": {"values": [{}]}, "mark": {"type": "text", "text": "30°C", "fontSize": 19, "align": "left", "baseline": "middle"},
        "encoding": {"x": {"datum": 1.5668e-9, "type": "quantitative", "axis": null}, "y": {"datum": -60.182, "type": "quantitative", "axis": null}}},
      {"data": {"values": [{}]}, "mark": {"type": "text", "text": "40°C", "fontSize": 19, "align": "left", "baseline": "middle"},
        "encoding": {"x": {"datum": 1.69292e-9, "type": "quantitative", "axis": null}, "y": {"datum": -60.182, "type": "quantitative", "axis": null}}},
      {"data": {"values": [{}]}, "mark": {"type": "text", "text": "50°C", "fontSize": 19, "align": "left", "baseline": "middle"},
        "encoding": {"x": {"datum": 1.81438e-9, "type": "quantitative", "axis": null}, "y": {"datum": -60.182, "type": "quantitative", "axis": null}}},
      {"data": {"values": [{}]}, "mark": {"type": "text", "text": "60°C", "fontSize": 19, "align": "left", "baseline": "middle"},
        "encoding": {"x": {"datum": 1.5668e-9, "type": "quantitative", "axis": null}, "y": {"datum": -60.629, "type": "quantitative", "axis": null}}},
      {"data": {"values": [{}]}, "mark": {"type": "text", "text": "70°C", "fontSize": 19, "align": "left", "baseline": "middle"},
        "encoding": {"x": {"datum": 1.69292e-9, "type": "quantitative", "axis": null}, "y": {"datum": -60.629, "type": "quantitative", "axis": null}}},
      {"data": {"values": [{}]}, "mark": {"type": "text", "text": "80°C", "fontSize": 19, "align": "left", "baseline": "middle"},
        "encoding": {"x": {"datum": 1.81438e-9, "type": "quantitative", "axis": null}, "y": {"datum": -60.629, "type": "quantitative", "axis": null}}},
      {"data": {"values": [{}]}, "mark": {"type": "text", "text": "90°C", "fontSize": 19, "align": "left", "baseline": "middle"},
        "encoding": {"x": {"datum": 1.5668e-9, "type": "quantitative", "axis": null}, "y": {"datum": -61.085, "type": "quantitative", "axis": null}}},
      {"data": {"values": [{}]}, "mark": {"type": "text", "text": "100°C", "fontSize": 19, "align": "left", "baseline": "middle"},
        "encoding": {"x": {"datum": 1.69292e-9, "type": "quantitative", "axis": null}, "y": {"datum": -61.085, "type": "quantitative", "axis": null}}},
      {"data": {"values": [{}]}, "mark": {"type": "text", "text": "(d)", "fontSize": 45, "fontWeight": "bold", "align": "center", "baseline": "middle"},
        "encoding": {"x": {"datum": 1.405e-9, "type": "quantitative", "axis": null}, "y": {"datum": -60.23, "type": "quantitative", "axis": null}}}
    ],
    "resolve": {"axis": {"x": "independent", "y": "independent"}}
  },
  {
    "layer": [
      {
        "data": {"name": "d_ins"},
        "mark": {"type": "line", "strokeWidth": 1, "color": "#000"},
        "encoding": {
          "x": {"field": "T", "type": "quantitative", "scale": {"domain": [20, 115], "range": [722.5, 848.1], "nice": false, "zero": false},
            "axis": {"orient": "top", "offset": -486, "labels": false, "title": null, "tickSize": -3, "domainWidth": 1, "zindex": 1, "values": [20, 40, 60, 80, 100]}},
          "y": {"field": "phi", "type": "quantitative", "scale": {"domain": [1.3, 1.55], "range": [611.3, 486], "nice": false, "zero": false},
            "axis": {"orient": "right", "offset": 4, "labels": false, "title": null, "tickSize": -3, "domainWidth": 1, "zindex": 1, "values": [1.3, 1.4, 1.5]}}
        }
      },
      {
        "data": {"name": "d_ins"},
        "mark": {"type": "point", "shape": "square", "filled": true, "size": 60, "color": "#000", "opacity": 1},
        "encoding": {
          "x": {"field": "T", "type": "quantitative",
            "axis": {"orient": "bottom", "offset": -188.7, "values": [20, 30, 40, 50, 60, 70, 80, 90, 100, 110], "tickSize": -3, "domainWidth": 1, "zindex": 1,
              "labelExpr": "datum.value % 20 === 0 ? '' + datum.value : ''",
              "labelFontSize": 17, "labelFontWeight": "bold", "labelPadding": 7,
              "title": "Temperature (°C)", "titleFontSize": 15, "titleFontWeight": "bold", "titleX": 782, "titleY": 35}},
          "y": {"field": "phi", "type": "quantitative",
            "axis": {"orient": "left", "offset": -722.5, "values": [1.3, 1.35, 1.4, 1.45, 1.5, 1.55], "tickSize": -3, "domainWidth": 1, "zindex": 1,
              "labelExpr": "round(datum.value*100) % 10 === 0 ? format(datum.value, '.1f') : ''",
              "labelFontSize": 17, "labelFontWeight": "bold", "labelPadding": 4,
              "title": ["F-N tunneling", "barrier height (eV)"], "titleFontSize": 15, "titleFontWeight": "bold", "titleLineHeight": 16.5, "titleX": -39, "titleY": 556}}
        }
      }
    ],
    "resolve": {"axis": {"x": "independent", "y": "independent"}}
  }
],
"resolve": {"scale": {"x": "independent", "y": "independent", "color": "independent", "fill": "independent", "shape": "independent"}}
}
